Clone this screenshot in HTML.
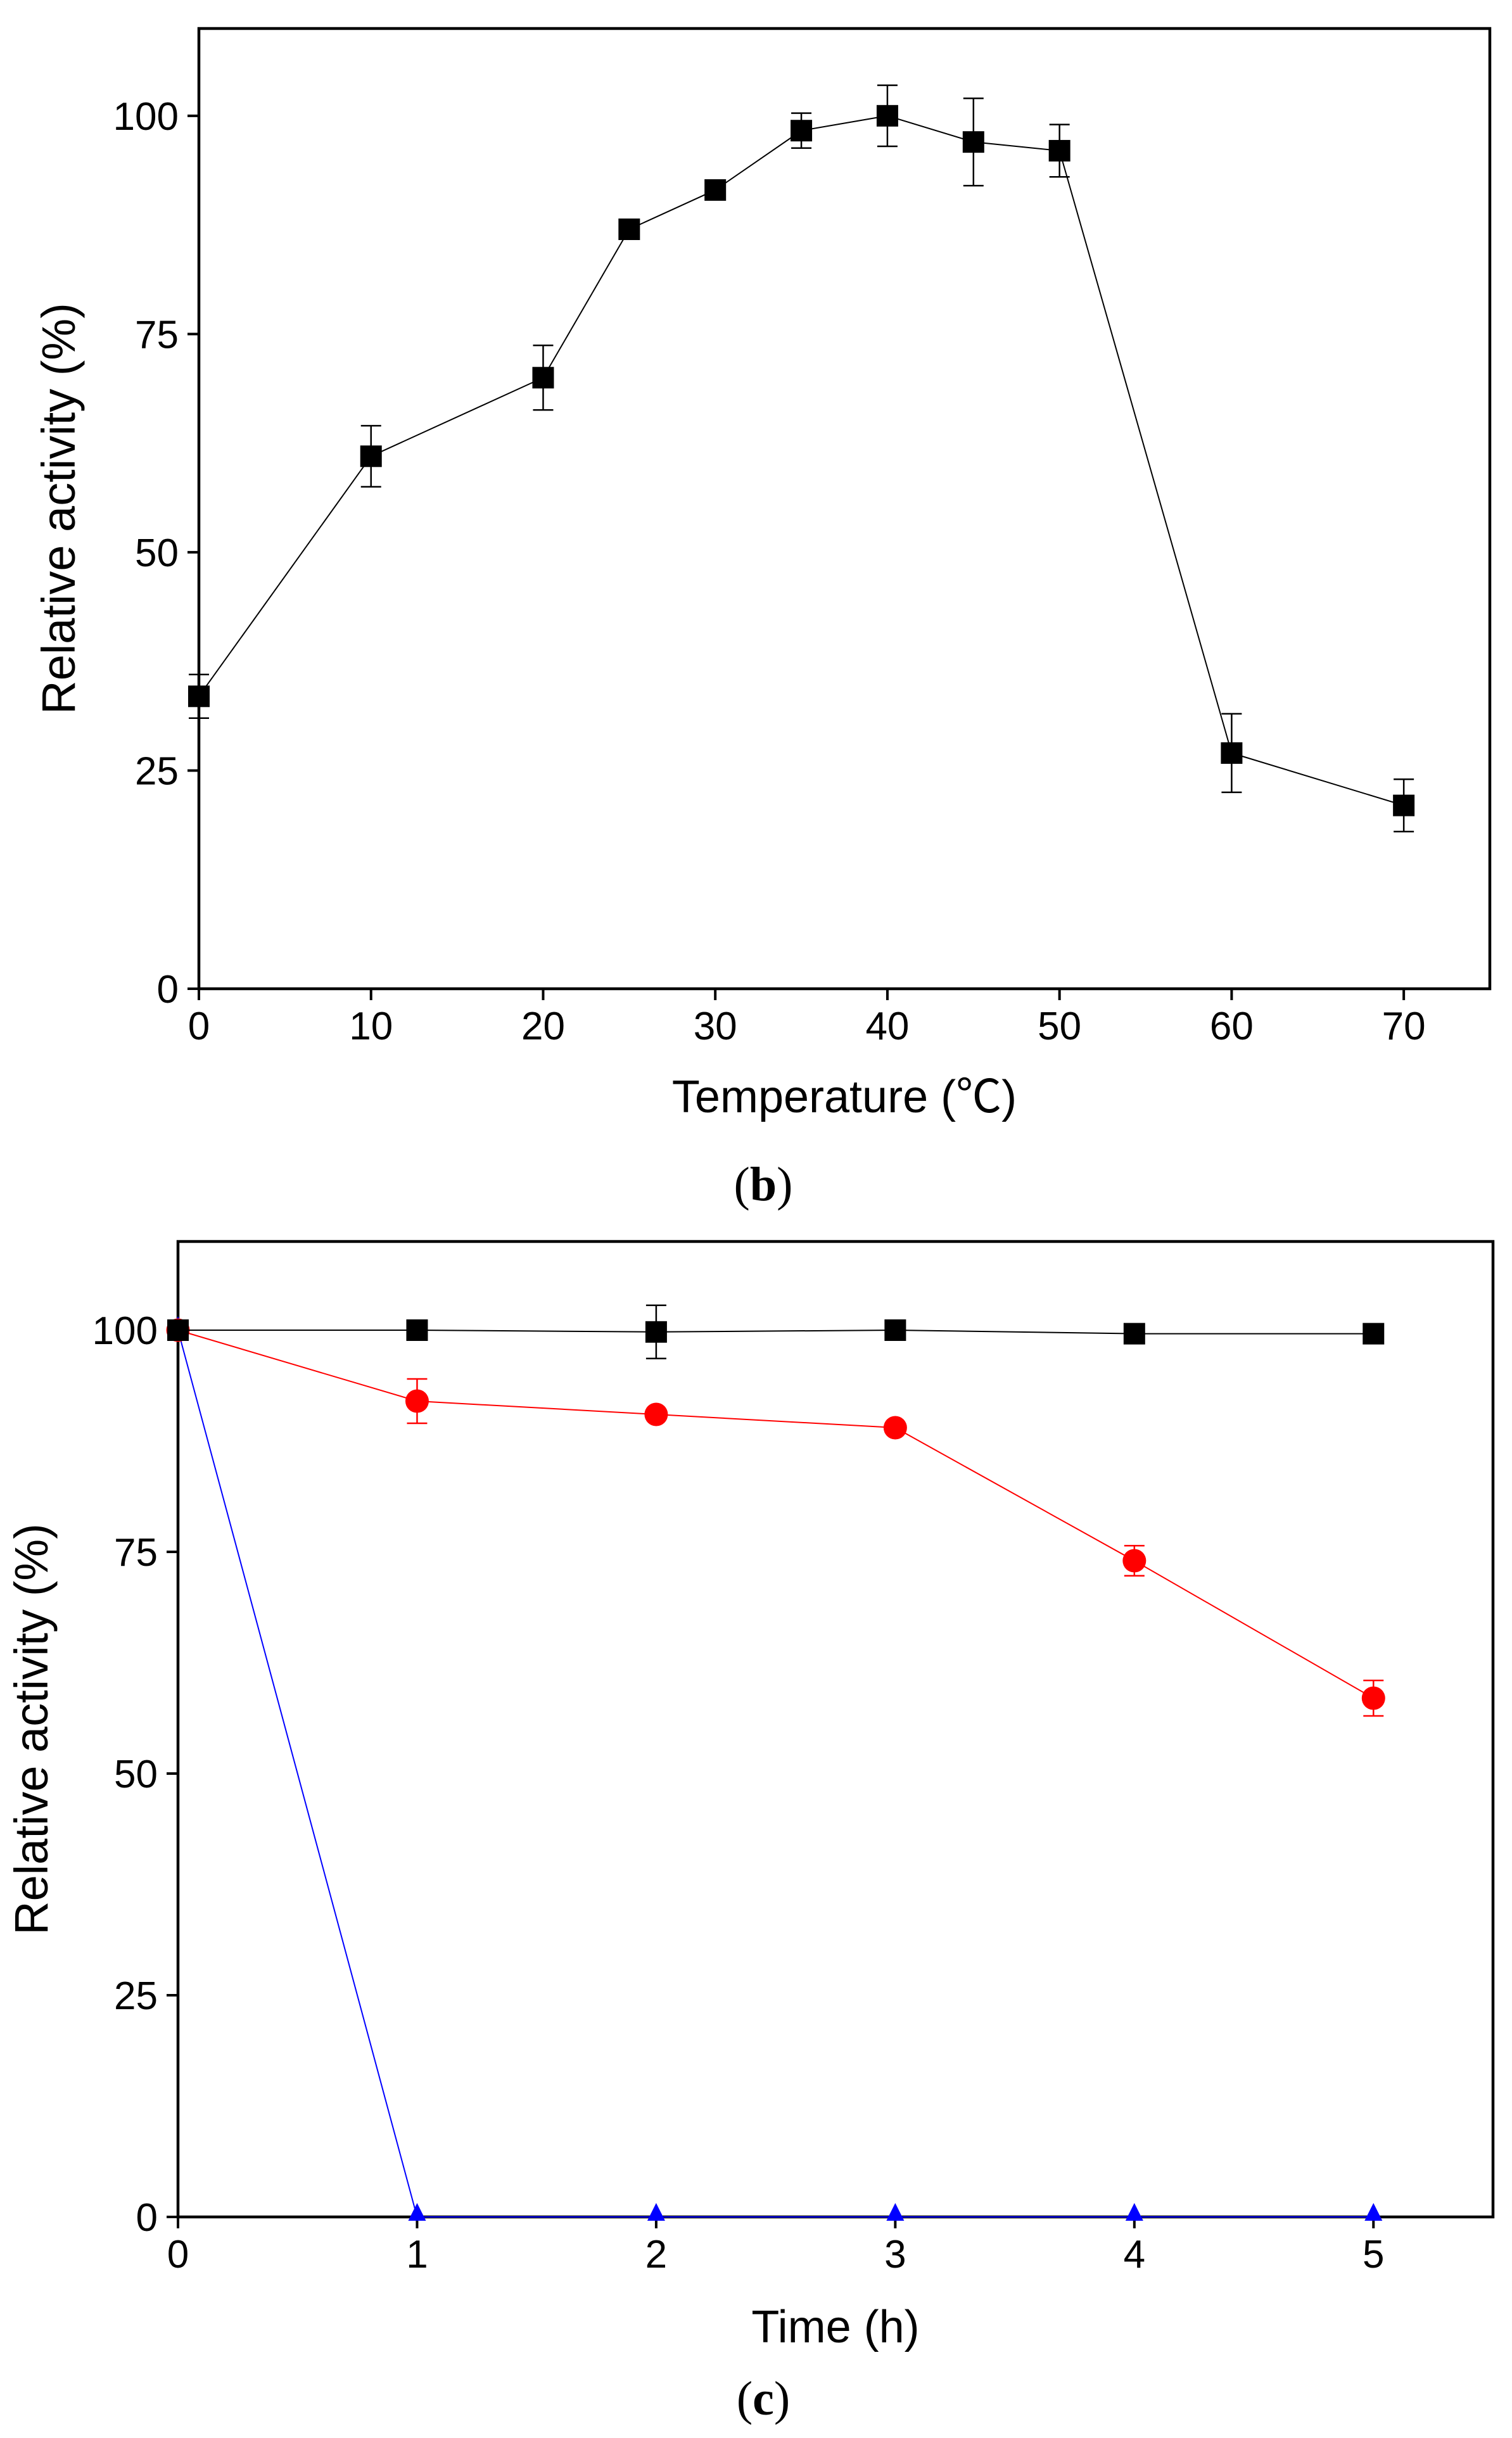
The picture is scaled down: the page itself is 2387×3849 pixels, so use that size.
<!DOCTYPE html>
<html><head><meta charset="utf-8"><style>
html,body{margin:0;padding:0;background:#fff;}
svg{display:block;}
</style></head><body>
<svg id="fig" width="2387" height="3849" viewBox="0 0 2387 3849" xmlns="http://www.w3.org/2000/svg" font-family="Liberation Sans, sans-serif">
<rect width="2387" height="3849" fill="#fff"/>
<g id="chartB"></g>
<g id="chartC"></g>
<text x="1205" y="1895" style="font-family:'Liberation Serif',serif" font-size="76" text-anchor="middle">(<tspan font-weight="bold">b</tspan>)</text>
<text x="1205" y="3812" style="font-family:'Liberation Serif',serif" font-size="76" text-anchor="middle">(<tspan font-weight="bold">c</tspan>)</text>
</svg>
<script>
const tempX = [0,10,20,25,30,35,40,45,50,60,70];
const tempY = [33.5,61,70,87,91.5,98.3,100,97,96,27,21];
const tempErr = [2.5,3.5,3.7,1,1,2,3.5,5,3,4.5,3];
const tempXTicks = [0,10,20,30,40,50,60,70];
const yTicks = [0,25,50,75,100];
const timeX = [0,1,2,3,4,5];
const timeTicks = [0,1,2,3,4,5];
const blackY = [100,100,99.8,100,99.6,99.6];
const blackErr = [0.3,0.3,3,0.3,0.3,0.3];
const redY = [100,92,90.5,89,74,58.5];
const redErr = [0.3,2.5,0.5,0.5,1.7,2];
const blueY = [100,0,0,0,0,0];

const NS='http://www.w3.org/2000/svg';
function mk(parent,tag,attrs){const e=document.createElementNS(NS,tag);for(const k in attrs)e.setAttribute(k,attrs[k]);parent.appendChild(e);return e;}

function axes(g,L,R,T,B,xmin,xmax,ymax,xticks,xlabel,ylabelX,xlabelY){
  const sx=v=>L+(v-xmin)/(xmax-xmin)*(R-L);
  const sy=v=>B-v/ymax*(B-T);
  const fr=mk(g,'rect',{x:L,y:T,width:R-L,height:B-T,fill:'none',stroke:'#000','stroke-width':4.5});
  
  
  xticks.forEach(t=>{
    const l=mk(g,'line',{x1:sx(t),x2:sx(t),y1:B,y2:B+18,stroke:'#000','stroke-width':4});
    
    
    const tx=mk(g,'text',{x:sx(t),y:B+80,'font-size':62,'text-anchor':'middle'});
    
    
    tx.textContent=t;
  });
  yTicks.forEach(t=>{
    const l=mk(g,'line',{x1:L-18,x2:L,y1:sy(t),y2:sy(t),stroke:'#000','stroke-width':4});
    
    
    const tx=mk(g,'text',{x:L-32,y:sy(t)+22,'font-size':62,'text-anchor':'end'});
    
    
    tx.textContent=t;
  });
  const xt=mk(g,'text',{x:(L+R)/2,y:xlabelY,'font-size':72,'text-anchor':'middle',style:"font-family:'Liberation Sans','Noto Sans CJK SC',sans-serif"});
  
  
  xt.textContent=xlabel;
  const yc=(T+B)/2;
  const yt=mk(g,'text',{x:ylabelX,y:yc,'font-size':74,'text-anchor':'middle',transform:`rotate(-90 ${ylabelX} ${yc})`});
  
  
  yt.textContent='Relative activity (%)';
  return {sx,sy};
}

function series(g,xs,ys,errs,color,shape,sx,sy,name){
  const pts=xs.map((x,i)=>sx(x)+','+sy(ys[i])).join(' ');
  const pl=mk(g,'polyline',{points:pts,fill:'none',stroke:color,'stroke-width':2});
  
  
  xs.forEach((x,i)=>{
    const cx=sx(x),cy=sy(ys[i]);
    if(errs){
      const e=errs[i],y1=sy(ys[i]+e),y2=sy(ys[i]-e);
      const eg=mk(g,'path',{d:`M${cx-16},${y1}H${cx+16}M${cx},${y1}V${y2}M${cx-16},${y2}H${cx+16}`,stroke:color,'stroke-width':2.5,fill:'none'});
      
      
    }
    let m;
    if(shape==='square') m=mk(g,'rect',{x:cx-17,y:cy-17,width:34,height:34,fill:color});
    else if(shape==='circle') m=mk(g,'circle',{cx:cx,cy:cy,r:18.5,fill:color});
    else m=mk(g,'polygon',{points:`${cx},${cy-22} ${cx-14},${cy+6} ${cx+14},${cy+6}`,fill:color});
    
    
  });
}

const gB=document.getElementById('chartB');
const aB=axes(gB,314,2352,45,1561,0,75,110,tempXTicks,'Temperature (\u2103)',118,1756);
series(gB,tempX,tempY,tempErr,'#000','square',aB.sx,aB.sy,'activity');

const gC=document.getElementById('chartC');
const aC=axes(gC,281,2357,1960,3500,0,5.5,110,timeTicks,'Time (h)',75,3698);
series(gC,timeX,blueY,null,'#0000ff','triangle',aC.sx,aC.sy,'blue-series');
series(gC,timeX,redY,redErr,'#ff0000','circle',aC.sx,aC.sy,'red-series');
series(gC,timeX,blackY,blackErr,'#000','square',aC.sx,aC.sy,'black-series');
</script>
</body></html>
